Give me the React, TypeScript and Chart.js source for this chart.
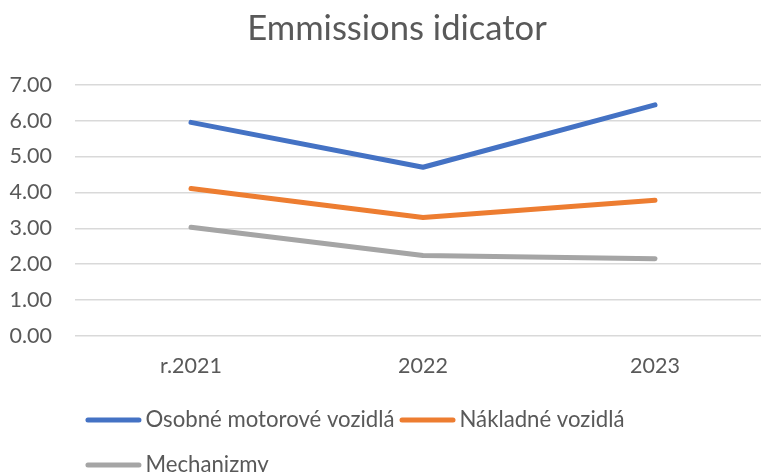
import React, { useEffect, useRef } from "react";
import { Chart, registerables } from "chart.js";

Chart.register(...registerables);

const categories = ["r.2021", "2022", "2023"];
const seriesNames = ["Osobné motorové vozidlá", "Nákladné vozidlá", "Mechanizmy"];
const osobne = [5.95, 4.7, 6.44];
const nakladne = [4.11, 3.3, 3.78];
const mechanizmy = [3.03, 2.24, 2.15];
const seriesColors = ["#4472C4", "#ED7D31", "#A5A5A5"];
const titleText = "Emmissions idicator";

const TEXT = "#595959";
const FONT = "Lato";

const titlePlugin = {
  id: "excelTitle",
  afterDraw(chart: any) {
    const ctx = chart.ctx as CanvasRenderingContext2D;
    ctx.save();
    ctx.font = `34.6px "${FONT}"`;
    ctx.fillStyle = TEXT;
    ctx.textAlign = "center";
    ctx.textBaseline = "middle";
    ctx.fillText(titleText, chart.width / 2 + 2, 29);
    ctx.restore();
  },
};

const legendPlugin = {
  id: "excelLegend",
  afterDraw(chart: any) {
    const ctx = chart.ctx as CanvasRenderingContext2D;
    const ds = chart.data.datasets;
    const lineW = 56;
    const gap = 4;
    const spacing = 5;
    ctx.save();
    ctx.font = `22.2px "${FONT}"`;
    const widths = ds.map((d: any) => lineW + gap + ctx.measureText(d.label).width);
    const colW = Math.max(...widths) + spacing;
    const cols = 2;
    const total = cols * colW - spacing;
    const startX = 397 - total / 2;
    const rowY0 = chart.chartArea.bottom + 84;
    const rowH = 45;
    ds.forEach((d: any, i: number) => {
      const c = i % cols;
      const r = Math.floor(i / cols);
      const x = startX + c * colW;
      const y = rowY0 + r * rowH;
      ctx.strokeStyle = d.borderColor;
      ctx.lineWidth = 5;
      ctx.lineCap = "round";
      ctx.beginPath();
      ctx.moveTo(x + 2.5, y);
      ctx.lineTo(x + lineW - 2.5, y);
      ctx.stroke();
      ctx.fillStyle = TEXT;
      ctx.textBaseline = "middle";
      ctx.textAlign = "left";
      ctx.fillText(d.label, x + lineW + gap, y);
    });
    ctx.restore();
  },
};

export default function App() {
  const ref = useRef<HTMLCanvasElement>(null);
  useEffect(() => {
    if (!ref.current) return;
    Chart.defaults.font.family = FONT;
    const values = [osobne, nakladne, mechanizmy];
    const chart = new Chart(ref.current, {
      type: "line",
      data: {
        labels: categories,
        datasets: seriesNames.map((name, i) => ({
          label: name,
          data: values[i],
          borderColor: seriesColors[i],
          backgroundColor: seriesColors[i],
          borderWidth: 5,
          borderCapStyle: "round" as const,
          borderJoinStyle: "round" as const,
          pointRadius: 0,
          pointHoverRadius: 0,
          tension: 0,
          fill: false,
        })),
      },
      options: {
        animation: false,
        responsive: false,
        maintainAspectRatio: false,
        layout: { padding: { top: 84.7, right: 19, bottom: 96, left: 0 } },
        plugins: {
          legend: { display: false },
          tooltip: { enabled: false },
          title: { display: false },
        },
        scales: {
          x: {
            type: "category",
            offset: true,
            grid: { display: false, drawTicks: false },
            border: { display: false },
            ticks: { color: TEXT, font: { family: FONT, size: 21.5 }, padding: 17, maxRotation: 0 },
            afterFit(scale: any) {
              scale.height = 40;
            },
          },
          y: {
            min: 0,
            max: 7,
            ticks: {
              stepSize: 1,
              color: TEXT,
              font: { family: FONT, size: 21.5 },
              padding: 23,
              callback: (v: any) => Number(v).toFixed(2),
            },
            grid: { color: "#D9D9D9", lineWidth: 1.5, drawTicks: false },
            border: { display: false },
            afterFit(scale: any) {
              scale.width = 75;
            },
          },
        },
      },
      plugins: [titlePlugin, legendPlugin],
    });
    return () => chart.destroy();
  }, []);
  return (
    <div style={{ position: "fixed", left: 0, top: 0, width: 761, height: 472, overflow: "hidden", background: "#fff" }}>
      <canvas ref={ref} width={790} height={472} style={{ width: 790, height: 472, display: "block" }} />
    </div>
  );
}
